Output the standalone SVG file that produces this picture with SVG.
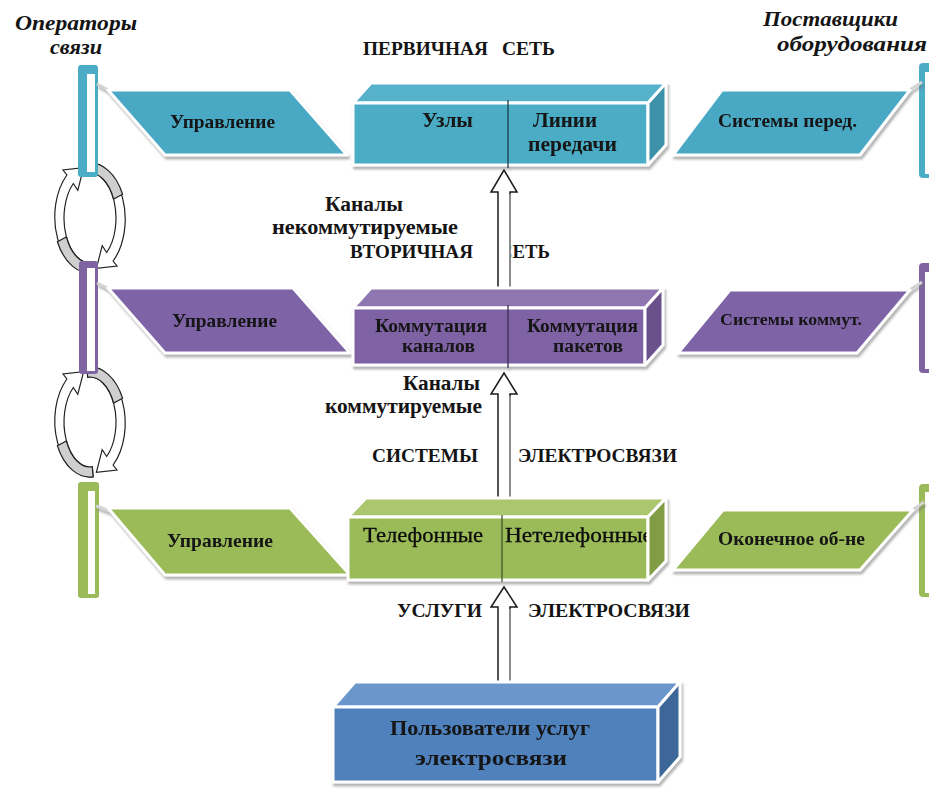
<svg xmlns="http://www.w3.org/2000/svg" width="929" height="791" viewBox="0 0 929 791">
<style>
.t{font-family:"Liberation Serif","Times New Roman",serif;font-weight:bold;fill:#141414;}
.n{font-weight:normal;fill:#0a0a0a;}
.i{font-style:italic;}
.f{stroke:#fff;stroke-width:3;stroke-linejoin:round;}
.pl{stroke:#fff;stroke-width:3;stroke-linejoin:round;}
.lk{stroke:#d4d4d4;stroke-width:3;}
.cyc{fill:#fff;stroke:#222;stroke-width:1.2;}
.cg{fill:#cfcfcf;stroke:#222;stroke-width:1.2;}
.arr{fill:#fff;stroke:#1a1a1a;stroke-width:1.5;stroke-linejoin:miter;}
.div{stroke-width:1.3;}
</style>
<defs>
<filter id="sh" x="-10%" y="-10%" width="120%" height="130%">
<feDropShadow dx="1.5" dy="3" stdDeviation="1.2" flood-color="#777" flood-opacity="0.55"/>
</filter>
<g id="cycle">
<path class="cyc" d="M86.9,163.2 A36,56 0 0 1 113.1,261.0 L117.0,266.0 L96.4,268.4 L102.2,245.7 L106.7,252.5 A26,45 0 0 0 87.7,173.2 Z"/>
<path class="cg" d="M86.9,163.2 A36,56 0 0 1 122.6,194.3 L113.6,199.0 A26,45 0 0 0 87.7,173.2 Z"/>
<path class="cyc" d="M93.1,272.8 A36,56 0 0 1 66.9,175.0 L63.0,170.0 L83.6,167.6 L77.8,190.3 L73.3,183.5 A26,45 0 0 0 92.3,262.8 Z"/>
<path class="cg" d="M93.1,272.8 A36,56 0 0 1 57.4,241.7 L66.4,237.0 A26,45 0 0 0 92.3,262.8 Z"/>
</g>
</defs>
<rect width="929" height="791" fill="#fff"/>

<!-- headers -->
<g id="operators">
<text class="t i" x="15" y="30" font-size="21" textLength="122" lengthAdjust="spacingAndGlyphs">Операторы</text>
<text class="t i" x="50" y="54" font-size="21" textLength="52" lengthAdjust="spacingAndGlyphs">связи</text>
</g>
<g id="suppliers">
<text class="t i" x="763" y="26" font-size="20" textLength="135" lengthAdjust="spacingAndGlyphs">Поставщики</text>
<text class="t i" x="777" y="51" font-size="20" textLength="150" lengthAdjust="spacingAndGlyphs">оборудования</text>
</g>

<!-- cycle arrows -->
<g id="cycle-1"><use href="#cycle"/></g>
<g id="cycle-2"><use href="#cycle" transform="translate(0,204)"/></g>

<!-- brackets -->
<g id="bracket-left-1"><rect x="78" y="65" width="20" height="112" rx="3" fill="#4BACC6"/><rect x="87" y="74" width="8" height="98" fill="#fff"/></g>
<g id="bracket-left-2"><rect x="79" y="261" width="19" height="113" rx="3" fill="#8064A2"/><rect x="87" y="268" width="8" height="103" fill="#fff"/></g>
<g id="bracket-left-3"><rect x="78" y="482" width="21" height="116" rx="3" fill="#9BBB59"/><rect x="88" y="491" width="7" height="103" fill="#fff"/></g>
<g id="bracket-right-1"><rect x="919" y="63" width="20" height="115" rx="4" fill="#4BACC6"/><rect x="925" y="72" width="14" height="102" fill="#fff"/></g>
<g id="bracket-right-2"><rect x="919" y="263" width="20" height="110" rx="4" fill="#8064A2"/><rect x="925" y="272" width="14" height="97" fill="#fff"/></g>
<g id="bracket-right-3"><rect x="919" y="484" width="20" height="113" rx="4" fill="#9BBB59"/><rect x="925" y="492" width="14" height="101" fill="#fff"/></g>

<!-- titles -->
<g id="title-primary">
<text class="t" x="363" y="55" font-size="19" textLength="125" lengthAdjust="spacingAndGlyphs">ПЕРВИЧНАЯ</text>
<text class="t" x="502" y="55" font-size="19" textLength="53" lengthAdjust="spacingAndGlyphs">СЕТЬ</text>
</g>
<g id="label-channels-1">
<text class="t" x="325" y="211" font-size="20" textLength="78" lengthAdjust="spacingAndGlyphs">Каналы</text>
<text class="t" x="272" y="234" font-size="20" textLength="186" lengthAdjust="spacingAndGlyphs">некоммутируемые</text>
</g>
<g id="title-secondary">
<text class="t" x="350" y="258" font-size="19" textLength="123" lengthAdjust="spacingAndGlyphs">ВТОРИЧНАЯ</text>
<text class="t" x="499" y="258" font-size="19" textLength="51" lengthAdjust="spacingAndGlyphs">СЕТЬ</text>
</g>
<g id="label-channels-2">
<text class="t" x="403" y="390" font-size="20" textLength="77" lengthAdjust="spacingAndGlyphs">Каналы</text>
<text class="t" x="325" y="413" font-size="20" textLength="157" lengthAdjust="spacingAndGlyphs">коммутируемые</text>
</g>
<g id="title-systems">
<text class="t" x="372" y="462" font-size="19" textLength="106" lengthAdjust="spacingAndGlyphs">СИСТЕМЫ</text>
<text class="t" x="518" y="462" font-size="19" textLength="159" lengthAdjust="spacingAndGlyphs">ЭЛЕКТРОСВЯЗИ</text>
</g>
<g id="title-services">
<text class="t" x="397" y="617" font-size="19" textLength="85" lengthAdjust="spacingAndGlyphs">УСЛУГИ</text>
<text class="t" x="528" y="617" font-size="19" textLength="162" lengthAdjust="spacingAndGlyphs">ЭЛЕКТРОСВЯЗИ</text>
</g>

<!-- connectors -->
<g id="connectors">
<polygon class="arr" points="498,292 498,192 491,192 504,170 517,192 510,192 510,292"/>
<line x1="510" y1="194" x2="510" y2="290" stroke="#9a9a9a" stroke-width="1.6"/>
<polygon class="arr" points="498,500 498,394 491,394 504,373 517,394 510,394 510,500"/>
<line x1="510" y1="396" x2="510" y2="498" stroke="#9a9a9a" stroke-width="1.6"/>
<polygon class="arr" points="498,686 498,607 491,607 504,587 517,607 510,607 510,686"/>
<line x1="510" y1="609" x2="510" y2="684" stroke="#9a9a9a" stroke-width="1.6"/>
</g>

<!-- level 1 -->
<g id="mgmt-1" filter="url(#sh)">
<line class="lk" x1="97" y1="84" x2="110" y2="91"/>
<polygon class="pl" fill="#4AA9C4" points="108,90 290,90 347,155 165,155"/>
<text class="t" x="170" y="128" font-size="19" textLength="105" lengthAdjust="spacingAndGlyphs">Управление</text>
</g>
<g id="trans-sys" filter="url(#sh)">
<line class="lk" x1="908" y1="91" x2="922" y2="82"/>
<polygon class="pl" fill="#4AA9C4" points="722,90 910,90 860,155 673,155"/>
<text class="t" x="718" y="127" font-size="18" textLength="139" lengthAdjust="spacingAndGlyphs">Системы перед.</text>
</g>
<g id="primary-net" filter="url(#sh)">
<polygon class="f" fill="#57B2CA" points="353,103 371,83 666,83 648,103"/>
<rect class="f" x="353" y="103" width="295" height="62" fill="#4BACC6"/>
<polygon class="f" fill="#3C91A9" points="648,103 666,83 666,145 648,165"/>
<line class="div" x1="508" y1="100" x2="508" y2="168" stroke="#1d3d48"/>
<text class="t" x="422" y="127" font-size="21" textLength="51" lengthAdjust="spacingAndGlyphs">Узлы</text>
<text class="t" x="533" y="127" font-size="21" textLength="64" lengthAdjust="spacingAndGlyphs">Линии</text>
<text class="t" x="528" y="151" font-size="21" textLength="89" lengthAdjust="spacingAndGlyphs">передачи</text>
</g>

<!-- level 2 -->
<g id="mgmt-2" filter="url(#sh)">
<line class="lk" x1="97" y1="283" x2="112" y2="290"/>
<polygon class="pl" fill="#7F63A7" points="108,288 293,288 350,353 165,353"/>
<text class="t" x="172" y="327" font-size="19" textLength="105" lengthAdjust="spacingAndGlyphs">Управление</text>
</g>
<g id="switch-sys" filter="url(#sh)">
<line class="lk" x1="908" y1="291" x2="922" y2="282"/>
<polygon class="pl" fill="#7F63A7" points="730,290 910,290 857,353 678,353"/>
<text class="t" x="720" y="325" font-size="17" textLength="142" lengthAdjust="spacingAndGlyphs">Системы коммут.</text>
</g>
<g id="secondary-net" filter="url(#sh)">
<polygon class="f" fill="#8F76B1" points="353,308 371,288 663,288 645,308"/>
<rect class="f" x="353" y="308" width="292" height="57" fill="#7E62A4"/>
<polygon class="f" fill="#6A518C" points="645,308 663,288 663,345 645,365"/>
<line class="div" x1="508" y1="305" x2="508" y2="368" stroke="#3a2c55"/>
<text class="t" x="375" y="332" font-size="18" textLength="112" lengthAdjust="spacingAndGlyphs">Коммутация</text>
<text class="t" x="402" y="352" font-size="18" textLength="73" lengthAdjust="spacingAndGlyphs">каналов</text>
<text class="t" x="527" y="332" font-size="18" textLength="111" lengthAdjust="spacingAndGlyphs">Коммутация</text>
<text class="t" x="553" y="352" font-size="18" textLength="70" lengthAdjust="spacingAndGlyphs">пакетов</text>
</g>

<!-- level 3 -->
<g id="mgmt-3" filter="url(#sh)">
<line class="lk" x1="96" y1="506" x2="110" y2="511"/>
<polygon class="pl" fill="#9BBB59" points="108,508 290,508 350,575 165,575"/>
<text class="t" x="167" y="547" font-size="19" textLength="106" lengthAdjust="spacingAndGlyphs">Управление</text>
</g>
<g id="terminal" filter="url(#sh)">
<line class="lk" x1="911" y1="511" x2="924" y2="502"/>
<polygon class="pl" fill="#9BBB59" points="723,510 913,510 860,570 673,570"/>
<text class="t" x="718" y="545" font-size="18" textLength="147" lengthAdjust="spacingAndGlyphs">Оконечное об-не</text>
</g>
<g id="telecom-sys" filter="url(#sh)">
<polygon class="f" fill="#AAC66E" points="348,517 366,498 666,498 648,517"/>
<rect class="f" x="348" y="517" width="300" height="63" fill="#9BBB59"/>
<line class="div" x1="502" y1="515" x2="502" y2="582" stroke="#46552a"/>
<text class="t n" x="363" y="542" font-size="21" textLength="120" lengthAdjust="spacingAndGlyphs" stroke="#0a0a0a" stroke-width="0.3">Телефонные</text>
<text class="t n" x="505" y="542" font-size="21" textLength="148" lengthAdjust="spacingAndGlyphs" stroke="#0a0a0a" stroke-width="0.3">Нетелефонные</text>
<polygon class="f" fill="#809C45" points="648,517 666,498 666,561 648,580"/>
</g>

<!-- users -->
<g id="users" filter="url(#sh)">
<polygon class="f" fill="#6B96CC" points="333,707 355,682 680,682 658,707"/>
<rect class="f" x="333" y="707" width="325" height="75" fill="#4F81BD"/>
<polygon class="f" fill="#3C6699" points="658,707 680,682 680,757 658,782"/>
<text class="t" x="390" y="735" font-size="22" textLength="200" lengthAdjust="spacingAndGlyphs">Пользователи услуг</text>
<text class="t" x="415" y="765" font-size="22" textLength="152" lengthAdjust="spacingAndGlyphs">электросвязи</text>
</g>
</svg>
